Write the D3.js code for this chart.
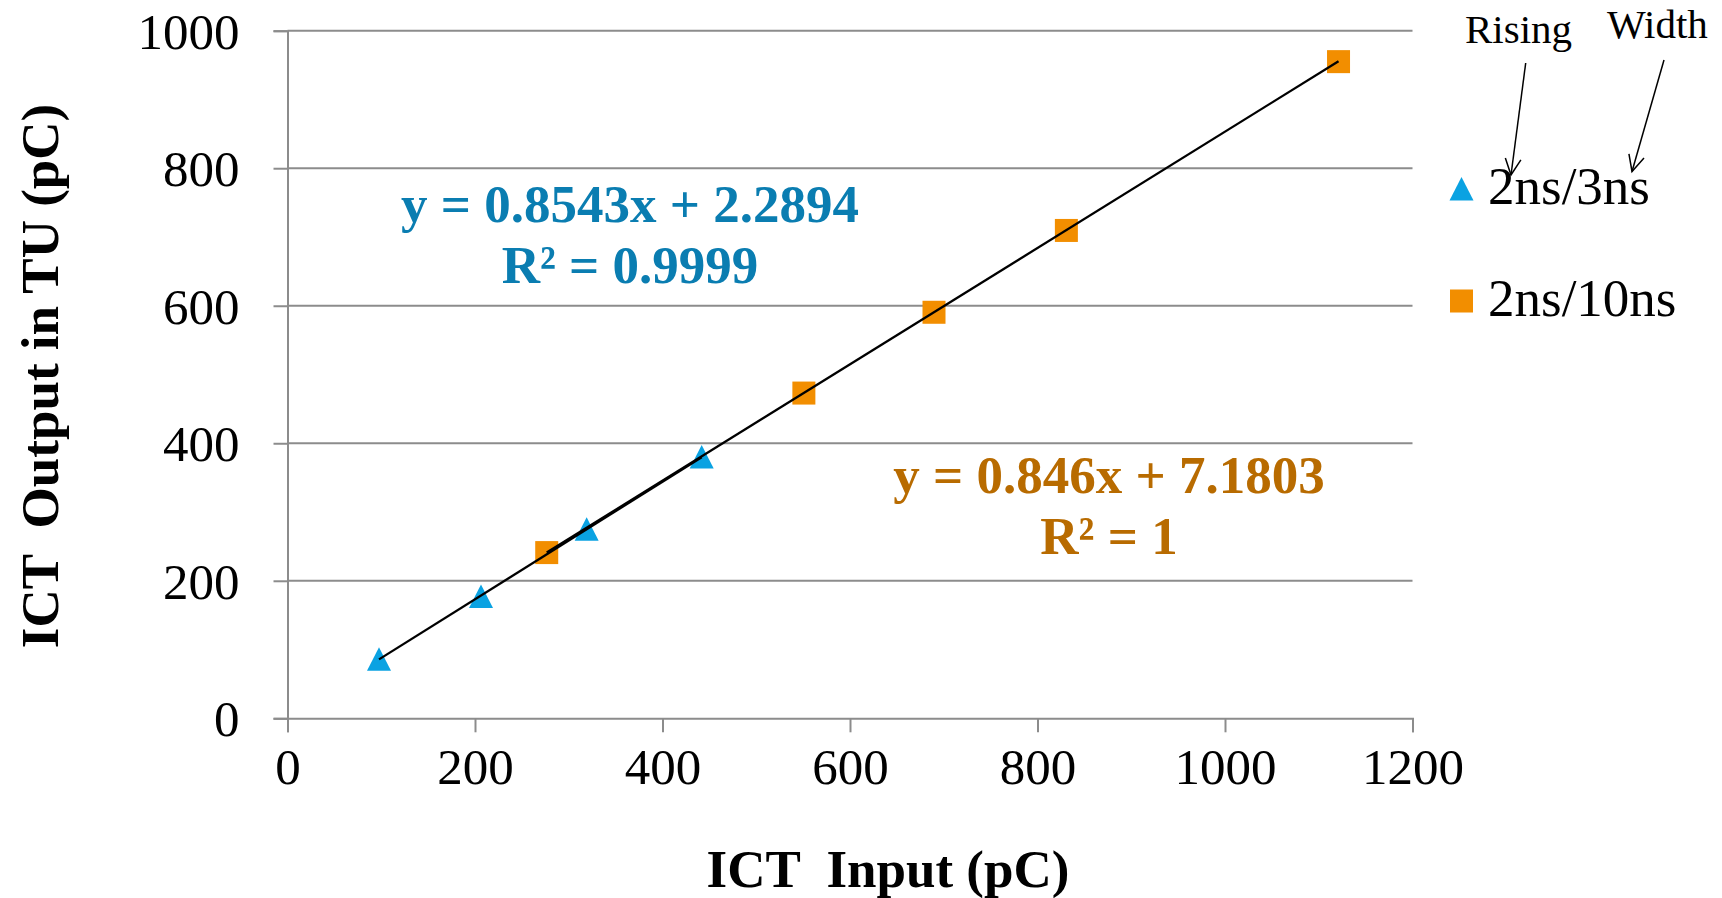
<!DOCTYPE html>
<html>
<head>
<meta charset="utf-8">
<script src="https://cdn.jsdelivr.net/npm/d3@7"></script>
<style>
  body { margin: 0; background: #fff; }
  text { font-family: "Liberation Serif", "Times New Roman", serif; }
</style>
</head>
<body>
<svg id="chart" width="1722" height="898"></svg>
<script>
// data
let seriesNames = ['2ns/3ns', '2ns/10ns'];
let triX = [97.6, 206.4, 319.1, 441.8];
let triY = [86, 177, 275, 380];
let sqX = [276.5, 550.8, 689.6, 830.8, 1121.1];
let sqY = [241, 473, 590.5, 709.5, 955];
let fitSlope = [0.8543, 0.846];
let fitIntercept = [2.2894, 7.1803];
let fitLabels = [['y = 0.8543x + 2.2894', 'R² = 0.9999'], ['y = 0.846x + 7.1803', 'R² = 1']];
let xTicks = [0, 200, 400, 600, 800, 1000, 1200];
let yTicks = [0, 200, 400, 600, 800, 1000];

let svg = d3.select('#chart');
let colors = ['#0AA2E2', '#F28E00'];
let textColors = ['#0A7DB1', '#B86B00'];
let gridColor = '#8C8C8C';

let x = d3.scaleLinear().domain([0, 1200]).range([287.5, 1412.5]);
let y = d3.scaleLinear().domain([0, 1000]).range([718.3, 30.7]);

// horizontal gridlines
svg.append('g')
    .selectAll('line')
    .data(yTicks.filter(t => t > 0))
    .join('line')
    .attr('x1', x(0)).attr('x2', x(1200))
    .attr('y1', d => y(d)).attr('y2', d => y(d))
    .attr('stroke', gridColor)
    .attr('stroke-width', 2);

let yAxis = svg.append('g')
    .attr('transform', `translate(${x(0)},0)`)
    .call(d3.axisLeft(y).tickValues(yTicks).tickFormat(d3.format('d')).tickSize(14).tickPadding(34));

let xAxis = svg.append('g')
    .attr('transform', `translate(0,${y(0)})`)
    .call(d3.axisBottom(x).tickValues(xTicks).tickFormat(d3.format('d')).tickSize(14).tickPadding(14));

for (let ax of [xAxis, yAxis]){
    ax.select('.domain').attr('stroke', gridColor).attr('stroke-width', 2);
    ax.selectAll('.tick line').attr('stroke', gridColor).attr('stroke-width', 2);
    ax.selectAll('.tick text')
        .attr('fill', '#000')
        .attr('font-size', 51)
        .attr('font-family', '"Liberation Serif", serif');
}
yAxis.selectAll('.tick text').attr('dy', '0.34em');
xAxis.selectAll('.tick text').attr('dy', '0.74em');

// axis titles
svg.append('text')
    .attr('x', 888).attr('y', 887)
    .attr('text-anchor', 'middle')
    .attr('font-size', 53)
    .attr('font-weight', 'bold')
    .attr('xml:space', 'preserve')
    .text('ICT  Input (pC)');

svg.append('text')
    .attr('transform', 'translate(58,376) rotate(-90)')
    .attr('text-anchor', 'middle')
    .attr('font-size', 53)
    .attr('font-weight', 'bold')
    .attr('xml:space', 'preserve')
    .text('ICT  Output in TU (pC)');

// marker shapes
let triPath = (cx, cy) => `M${cx},${cy - 12}L${cx + 12},${cy + 11.5}L${cx - 12},${cy + 11.5}Z`;
let sqSize = 23;

svg.append('g')
    .selectAll('path')
    .data(d3.zip(triX, triY))
    .join('path')
    .attr('d', d => triPath(x(d[0]), y(d[1])))
    .attr('fill', colors[0]);

svg.append('g')
    .selectAll('rect')
    .data(d3.zip(sqX, sqY))
    .join('rect')
    .attr('x', d => x(d[0]) - sqSize/2)
    .attr('y', d => y(d[1]) - sqSize/2)
    .attr('width', sqSize).attr('height', sqSize)
    .attr('fill', colors[1]);

// linear trendlines, drawn over the markers
let line = d3.line();
let xRanges = [d3.extent(triX), d3.extent(sqX)];
for (let i = 0; i < 2; i++){
    let pts = xRanges[i].map(v => [x(v), y(fitSlope[i]*v + fitIntercept[i])]);
    svg.append('path')
        .attr('d', line(pts))
        .attr('fill', 'none')
        .attr('stroke', '#000')
        .attr('stroke-width', 2.3);
}

// trendline equations
let labelPos = [[630, 222], [1109, 493]];
for (let i = 0; i < 2; i++){
    let t = svg.append('text')
        .attr('text-anchor', 'middle')
        .attr('font-size', 53)
        .attr('font-weight', 'bold')
        .attr('fill', textColors[i]);
    fitLabels[i].forEach((s, j) => {
        t.append('tspan')
            .attr('x', labelPos[i][0])
            .attr('y', labelPos[i][1] + j*61)
            .text(s);
    });
}

// legend
let legendY = [189, 301];
svg.append('path')
    .attr('d', triPath(1461.5, legendY[0]))
    .attr('fill', colors[0]);
svg.append('rect')
    .attr('x', 1461.5 - sqSize/2).attr('y', legendY[1] - sqSize/2)
    .attr('width', sqSize).attr('height', sqSize)
    .attr('fill', colors[1]);
svg.selectAll('.legtext')
    .data(seriesNames)
    .join('text')
    .attr('class', 'legtext')
    .attr('x', 1488)
    .attr('y', (d, i) => legendY[i] + 15)
    .attr('font-size', 53)
    .text(d => d);

// "Rising" / "Width" callouts
let notes = [
    {text: 'Rising', tx: 1465, ty: 43, from: [1525.7, 63], to: [1511, 175]},
    {text: 'Width', tx: 1607, ty: 38, from: [1664, 60], to: [1632, 171.5]}
];
for (let n of notes){
    svg.append('text')
        .attr('x', n.tx).attr('y', n.ty)
        .attr('font-size', 41)
        .text(n.text);
    svg.append('path')
        .attr('d', line([n.from, n.to]))
        .attr('stroke', '#000').attr('stroke-width', 1.5);
    let ang = Math.atan2(n.to[1] - n.from[1], n.to[0] - n.from[0]);
    let head = [ang + Math.PI - 0.45, ang + Math.PI + 0.45].map(a => [n.to[0] + 18*Math.cos(a), n.to[1] + 18*Math.sin(a)]);
    svg.append('path')
        .attr('d', line([head[0], n.to, head[1]]))
        .attr('fill', 'none')
        .attr('stroke', '#000').attr('stroke-width', 1.5);
}
</script>
</body>
</html>
